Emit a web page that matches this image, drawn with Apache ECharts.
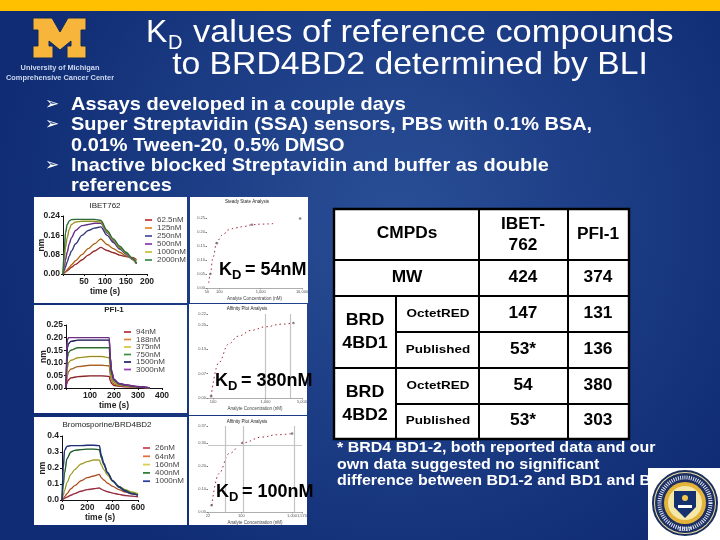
<!DOCTYPE html>
<html>
  <head>
    <meta charset="utf-8" />
    <title>KD values by BLI</title>
    <script src="https://cdn.jsdelivr.net/npm/echarts@6.0.0/dist/echarts.min.js"></script>
  </head>
  <body style="margin: 0; padding: 0; border: 0; background: #16387f">
    <div id="main" style="width: 720px; height: 540px"></div>
    <script type="text/javascript">
      // sensorgrams: IBET762
      var ibetTime = [0, 3, 6, 10, 15, 20, 30, 45, 60, 75, 90, 105, 120, 135, 150, 165, 175];
      var ibetNames = ["62.5nM", "125nM", "250nM", "500nM", "1000nM", "2000nM"];
      var ibet62 = [0, 0.004, 0.008, 0.013, 0.02, 0.028, 0.04, 0.058, 0.078, 0.095, 0.11, 0.097, 0.088, 0.078, 0.072, 0.068, 0.06];
      var ibet125 = [0, 0.005, 0.01, 0.018, 0.028, 0.038, 0.055, 0.08, 0.105, 0.125, 0.145, 0.122, 0.105, 0.09, 0.075, 0.065, 0.055];
      var ibet250 = [0, 0.015, 0.03, 0.05, 0.075, 0.095, 0.125, 0.16, 0.18, 0.19, 0.195, 0.16, 0.13, 0.103, 0.082, 0.06, 0.042];
      var ibet500 = [0, 0.03, 0.06, 0.09, 0.125, 0.15, 0.18, 0.2, 0.205, 0.21, 0.21, 0.17, 0.136, 0.107, 0.085, 0.062, 0.043];
      var ibet1000 = [0, 0.06, 0.11, 0.15, 0.185, 0.205, 0.215, 0.218, 0.218, 0.218, 0.215, 0.175, 0.14, 0.11, 0.087, 0.063, 0.044];
      var ibet2000 = [0, 0.1, 0.17, 0.205, 0.22, 0.225, 0.226, 0.226, 0.226, 0.226, 0.222, 0.18, 0.145, 0.115, 0.09, 0.065, 0.045];

      // sensorgrams: PFI-1
      var pfiTime = [0, 3, 6, 10, 20, 50, 100, 150, 180, 185, 190, 200, 220, 250, 300, 350];
      var pfiNames = ["94nM", "188nM", "375nM", "750nM", "1500nM", "3000nM"];
      var pfi94 = [0, 0.015, 0.025, 0.032, 0.04, 0.045, 0.048, 0.048, 0.046, 0.028, 0.018, 0.01, 0.007, 0.005, 0.003, 0];
      var pfi188 = [0, 0.03, 0.05, 0.065, 0.075, 0.085, 0.09, 0.09, 0.088, 0.05, 0.03, 0.016, 0.01, 0.007, 0.004, 0];
      var pfi375 = [0, 0.05, 0.08, 0.1, 0.11, 0.12, 0.125, 0.125, 0.12, 0.07, 0.04, 0.022, 0.012, 0.009, 0.004, 0];
      var pfi750 = [0, 0.08, 0.12, 0.14, 0.15, 0.16, 0.16, 0.16, 0.16, 0.095, 0.055, 0.03, 0.016, 0.01, 0.005, 0];
      var pfi1500 = [0, 0.11, 0.16, 0.175, 0.185, 0.19, 0.19, 0.19, 0.19, 0.115, 0.065, 0.033, 0.018, 0.012, 0.005, 0];
      var pfi3000 = [0, 0.15, 0.19, 0.2, 0.2, 0.2, 0.2, 0.2, 0.2, 0.12, 0.07, 0.035, 0.018, 0.012, 0.006, 0];

      // sensorgrams: Bromosporine
      var bromoTime = [0, 10, 20, 40, 70, 100, 150, 200, 250, 295, 310, 330, 360, 400, 450, 500, 550, 600];
      var bromoNames = ["26nM", "64nM", "160nM", "400nM", "1000nM "];
      var bromo26 = [0, 0.005, 0.01, 0.018, 0.03, 0.04, 0.055, 0.065, 0.07, 0.075, 0.068, 0.06, 0.052, 0.043, 0.035, 0.028, 0.024, 0.02];
      var bromo64 = [0, 0.01, 0.02, 0.04, 0.07, 0.09, 0.12, 0.14, 0.15, 0.16, 0.14, 0.125, 0.105, 0.085, 0.065, 0.05, 0.04, 0.035];
      var bromo160 = [0, 0.03, 0.06, 0.11, 0.16, 0.19, 0.225, 0.24, 0.25, 0.25, 0.22, 0.19, 0.155, 0.115, 0.085, 0.065, 0.05, 0.04];
      var bromo400 = [0, 0.09, 0.17, 0.26, 0.3, 0.31, 0.315, 0.318, 0.318, 0.315, 0.265, 0.22, 0.17, 0.12, 0.085, 0.06, 0.042, 0.03];
      var bromo1000 = [0, 0.2, 0.31, 0.335, 0.34, 0.34, 0.34, 0.342, 0.342, 0.34, 0.28, 0.23, 0.17, 0.12, 0.08, 0.055, 0.038, 0.03];

      // steady state fits, concentration (nM) vs response
      var ssaConcA = [55, 60, 70, 87, 120, 167, 250, 400, 615, 1000, 2000];
      var ssaRespA = [0.018, 0.05, 0.11, 0.167, 0.19, 0.208, 0.215, 0.22, 0.226, 0.228, 0.23];
      var ssaDotsA = [[60, 0.05], [87, 0.16], [615, 0.226], [9000, 0.248]];
      var ssaConcB = [92, 128, 197, 300, 553, 1000, 2000, 3430];
      var ssaRespB = [0.005, 0.094, 0.1435, 0.165, 0.181, 0.19, 0.197, 0.2];
      var ssaDotsB = [[92, 0.005], [3430, 0.2]];
      var ssaConcC = [26, 36, 57, 107, 257, 500, 1000];
      var ssaRespC = [0.029, 0.166, 0.253, 0.3, 0.325, 0.335, 0.34];
      var ssaDotsC = [[26, 0.029], [107, 0.3], [1000, 0.34]];

      // table
      var tableHead = ["CMPDs", "IBET-\n762", "PFI-1"];
      var rowMw = ["MW", "424", "374"];
      var rowGroups = ["BRD\n4BD1", "BRD\n4BD2"];
      var rowAssays = ["OctetRED", "Published", "OctetRED", "Published"];
      var colIbet = ["147", "53*", "54", "53*"];
      var colPfi = ["131", "136", "380", "303"];

      var bullets = [
        "Assays developed in a couple days",
        "Super Streptavidin (SSA) sensors, PBS with 0.1% BSA,",
        "0.01% Tween-20, 0.5% DMSO",
        "Inactive blocked Streptavidin and buffer as double",
        "references",
      ];
      var footnote = [
        "* BRD4 BD1-2, both reported data and our",
        "own data suggested no significant",
        "difference between BD1-2 and BD1 and BD2",
      ];

      var sans = '"Liberation Sans", Arial, sans-serif';
      var g = [];

      function rect(x, y, w, h, fill, z, stroke, lw) {
        g.push({
          type: "rect", silent: true, z: z,
          shape: { x: x, y: y, width: w, height: h },
          style: { fill: fill, stroke: stroke || null, lineWidth: lw || 0 },
        });
      }
      // scale stretches the text sideways, the slide's type is letter-spaced
      function txt(x, y, s, size, fill, weight, align, z, scale) {
        g.push({
          type: "text", silent: true, z: z || 20, x: x, y: y, scaleX: scale || 1,
          style: {
            x: 0, y: 0, text: s, fill: fill,
            font: (weight || "bold") + " " + size + "px " + sans,
            textAlign: align || "left", textVerticalAlign: "middle", lineHeight: size * 1.35,
          },
        });
      }
      function circle(x, y, r, fill, stroke, lw, dash) {
        g.push({
          type: "circle", silent: true, z: 31,
          shape: { cx: x, cy: y, r: r },
          style: { fill: fill, stroke: stroke || null, lineWidth: lw || 0, lineDash: dash || null },
        });
      }

      // slide background
      g.push({
        type: "rect", silent: true, z: -10,
        shape: { x: 0, y: 0, width: 720, height: 540 },
        style: {
          fill: {
            type: "radial", x: 0.55, y: 0.4, r: 0.75,
            colorStops: [
              { offset: 0, color: "#2a4f96" },
              { offset: 0.6, color: "#1a3a82" },
              { offset: 1, color: "#0f2c74" },
            ],
          },
        },
      });
      rect(0, 0, 720, 11, "#ffc000", -5);

      // block M logo
      g.push({
        type: "polygon", silent: true, z: 5,
        shape: {
          points: [[33, 18], [52, 18], [60, 32], [68, 18], [86, 18], [86, 30], [81, 30], [81, 46], [86, 46], [86, 58],
            [67, 58], [67, 46], [71, 46], [71, 41], [60, 50], [49, 41], [49, 46], [53, 46], [53, 58], [33, 58], [33, 46],
            [38, 46], [38, 30], [33, 30]],
        },
        style: { fill: "#f7b53c", stroke: "#132a5c", lineWidth: 1 },
      });
      txt(60, 68, "University of Michigan", 7.4, "#cdd8ee", "bold", "center");
      txt(60, 77.5, "Comprehensive Cancer Center", 7.4, "#cdd8ee", "bold", "center");

      // title
      txt(146, 33, "K", 32, "#fff", "normal");
      txt(168, 43, "D", 20, "#fff", "normal");
      txt(193, 33, "values of reference compounds", 32, "#fff", "normal", "left", 20, 1.076);
      txt(410, 65, "to BRD4BD2 determined by BLI", 32, "#fff", "normal", "center", 20, 1.053);

      // bullets
      var bulletY = [105, 125, 146, 166, 186];
      bullets.forEach(function (s, i) {
        txt(71, bulletY[i], s, 18.4, "#fff", "bold", "left", 20, 1.085);
      });
      [105, 125, 166].forEach(function (y) {
        g.push({
          type: "text", silent: true, z: 20,
          style: { x: 45, y: y, text: "\u27A2", fill: "#fff", font: '17px "DejaVu Sans"', textVerticalAlign: "middle" },
        });
      });

      // white picture panels
      rect(34, 197, 153, 106, "#fff", 0);
      rect(34, 305, 153, 108, "#fff", 0);
      rect(34, 417, 153, 108, "#fff", 0);
      rect(190, 197, 118, 106, "#fff", 0);
      rect(189, 304, 118, 111, "#fff", 0);
      rect(189, 416, 118, 109, "#fff", 0);

      // KD labels
      function kd(x, y, value) {
        txt(x, y, "K", 18, "#000");
        txt(x + 13, y + 5, "D", 13, "#000");
        txt(x + 26, y, "= " + value, 18, "#000");
      }
      kd(219, 270, "54nM");
      kd(215, 381, "380nM");
      kd(216, 492, "100nM");

      // table
      rect(334, 209, 295, 230, "#fff", 10, "#000", 2.4);
      function hline(x1, x2, y) { rect(x1, y - 1, x2 - x1, 2, "#000", 11); }
      function vline(x, y1, y2) { rect(x - 1, y1, 2, y2 - y1, "#000", 11); }
      hline(334, 629, 260);
      hline(334, 629, 296);
      hline(396, 629, 332);
      hline(334, 629, 368);
      hline(396, 629, 404);
      vline(479, 209, 439);
      vline(568, 209, 439);
      vline(396, 296, 439);
      var cellScale = 1.08;
      txt(407, 234, tableHead[0], 16, "#000", "bold", "center", 20, cellScale);
      txt(523, 235, tableHead[1], 16, "#000", "bold", "center", 20, cellScale);
      txt(598, 235, tableHead[2], 16, "#000", "bold", "center", 20, cellScale);
      txt(407, 278, rowMw[0], 16, "#000", "bold", "center", 20, cellScale);
      txt(523, 278, rowMw[1], 16, "#000", "bold", "center", 20, cellScale);
      txt(598, 278, rowMw[2], 16, "#000", "bold", "center", 20, cellScale);
      txt(365, 332, rowGroups[0], 16.5, "#000", "bold", "center", 20, cellScale);
      txt(365, 404, rowGroups[1], 16.5, "#000", "bold", "center", 20, cellScale);
      var rowY = [314, 350, 386, 421];
      rowAssays.forEach(function (s, i) {
        txt(438, rowY[i], s, 11.5, "#000", "bold", "center", 20, 1.17);
        txt(523, rowY[i], colIbet[i], 16, "#000", "bold", "center", 20, cellScale);
        txt(598, rowY[i], colPfi[i], 16, "#000", "bold", "center", 20, cellScale);
      });

      // footnote
      var footY = [448, 465, 481];
      footnote.forEach(function (s, i) {
        txt(337, footY[i], s, 14.6, "#fff", "bold", "left", 20, 1.097);
      });

      // seal
      rect(648, 468, 72, 72, "#fff", 30);
      circle(685, 503, 32, "#e8dca0", "#1a2f5e", 2);
      circle(685, 503, 30, "#1d2f62");
      circle(685, 503, 25.5, null, "#dfe6f5", 4, [1, 1.2]);
      circle(685, 503, 21, "#e3b33a");
      circle(685, 503, 17, "#f4e7a8");
      g.push({
        type: "polygon", silent: true, z: 32,
        shape: { points: [[674, 491], [696, 491], [696, 507], [685, 518], [674, 507]] },
        style: { fill: "#14306e" },
      });
      rect(678, 505, 14, 3, "#fff", 33);
      g.push({
        type: "circle", silent: true, z: 33,
        shape: { cx: 685, cy: 498, r: 3 },
        style: { fill: "#f2c84b" },
      });
      txt(685, 529, "1817", 6, "#dfe6f5", "bold", "center", 34);

      // sensorgram helpers
      function zip(xs, ys) {
        return xs.map(function (x, i) { return [x, ys[i]]; });
      }
      function sensorSeries(idx, time, names, rows, colors) {
        var out = [];
        rows.forEach(function (row, i) {
          out.push({
            name: names[i], type: "line", xAxisIndex: idx, yAxisIndex: idx,
            data: zip(time, row), showSymbol: false, smooth: 0.3, smoothMonotone: "x",
            lineStyle: { color: colors[i], width: 1.4 }, itemStyle: { color: colors[i] }, animation: false, silent: true,
          });
          out.push({
            type: "line", xAxisIndex: idx, yAxisIndex: idx,
            data: zip(time, row), showSymbol: false, smooth: 0.3, smoothMonotone: "x",
            lineStyle: { color: "#111", width: 0.6, opacity: 0.6 }, animation: false, silent: true,
          });
        });
        return out;
      }
      function ssaSeries(idx, conc, resp, dots, refX, refY) {
        var lines = [];
        (refX || []).forEach(function (v) { lines.push({ xAxis: v, lineStyle: { color: "#c4c4c4", width: 1.2, type: "solid" } }); });
        (refY || []).forEach(function (v) { lines.push({ yAxis: v, lineStyle: { color: "#c4c4c4", width: 1.2, type: "solid" } }); });
        return [
          {
            type: "line", xAxisIndex: idx, yAxisIndex: idx, data: zip(conc, resp), showSymbol: false, smooth: 0.4,
            smoothMonotone: "x", lineStyle: { color: "#a52a3a", width: 1, type: [1.5, 3] }, animation: false, silent: true,
            markLine: lines.length ? {
              silent: true, symbol: "none", label: { show: false }, animation: false, data: lines,
            } : undefined,
          },
          {
            type: "scatter", xAxisIndex: idx, yAxisIndex: idx, data: dots, symbolSize: 2.6,
            itemStyle: { color: "#5f6f7d" }, animation: false, silent: true,
          },
        ];
      }

      var axisLine = { lineStyle: { color: "#111", width: 1 } };
      function sensorAxisX(idx, max, interval, hideZero, nameGap) {
        return {
          type: "value", gridIndex: idx, min: 0, max: max, interval: interval,
          name: "time (s)", nameLocation: "middle", nameGap: nameGap,
          nameTextStyle: { fontFamily: sans, fontSize: 8.5, fontWeight: "bold", color: "#222" },
          splitLine: { show: false }, axisLine: axisLine, axisTick: { length: 2, lineStyle: { color: "#111" } },
          axisLabel: {
            fontFamily: sans, fontSize: 8.5, fontWeight: "bold", color: "#222", margin: 3,
            formatter: function (v) { return hideZero && v === 0 ? "" : v; },
          },
        };
      }
      function sensorAxisY(idx, max, interval, digits, nameGap) {
        return {
          type: "value", gridIndex: idx, min: 0, max: max, interval: interval,
          name: "nm", nameLocation: "middle", nameGap: nameGap, nameMoveOverlap: false,
          nameTextStyle: { fontFamily: sans, fontSize: 8.5, fontWeight: "bold", color: "#222" },
          splitLine: { show: false }, axisLine: axisLine, axisTick: { length: 2, lineStyle: { color: "#111" } },
          axisLabel: {
            fontFamily: sans, fontSize: 8.5, fontWeight: "bold", color: "#222", margin: 3,
            formatter: function (v) { return v.toFixed(digits); },
          },
        };
      }
      function ssaAxisX(idx, min, max) {
        return {
          type: "log", gridIndex: idx, min: min, max: max, logBase: 10,
          name: "Analyte Concentration (nM)", nameLocation: "middle", nameGap: 8,
          nameTextStyle: { fontFamily: sans, fontSize: 4.5, color: "#444" },
          splitLine: { show: false }, axisLine: { lineStyle: { color: "#999", width: 0.8 } },
          axisTick: { length: 1.5, lineStyle: { color: "#999" } },
          axisLabel: { fontSize: 4, color: "#555", margin: 2 },
        };
      }
      function ssaAxisY(idx, max, interval) {
        return {
          type: "value", gridIndex: idx, min: 0, max: max, interval: interval,
          splitLine: { show: false }, axisLine: { show: false },
          axisTick: { show: true, length: 1.5, lineStyle: { color: "#777" } },
          axisLabel: { fontSize: 4, color: "#555", margin: 2, formatter: function (v) { return v.toFixed(2); } },
        };
      }
      function legendAt(left, top, names, gap, colors) {
        return {
          orient: "vertical", left: left, top: top, padding: 0, itemWidth: 7, itemHeight: 6, itemGap: gap, selectedMode: false,
          icon: "path://M0 0H8V2H0Z",
          textStyle: { fontFamily: sans, fontSize: 8, color: "#444" },
          data: names.map(function (n, i) { return { name: n, itemStyle: { color: colors[i] } }; }),
        };
      }
      function plotTitle(text, x, y, weight, size) {
        return {
          text: text, left: x, top: y, textAlign: "center", padding: 0,
          textStyle: { fontFamily: sans, fontSize: size, fontWeight: weight, color: "#222" },
        };
      }

      var ibetColors = ["#c43a3a", "#e08a2e", "#4a4fa0", "#8a3fb0", "#c9c23a", "#3f8f4a"];
      var pfiColors = ["#b5343a", "#e0883a", "#d8c83e", "#3f8f3f", "#20256e", "#9a3fb5"];
      var bromoColors = ["#c8405a", "#e0703a", "#d8d04a", "#2f7f3a", "#2a3f9f"];

      var series = []
        .concat(sensorSeries(0, ibetTime, ibetNames, [ibet62, ibet125, ibet250, ibet500, ibet1000, ibet2000], ibetColors))
        .concat(sensorSeries(1, pfiTime, pfiNames, [pfi94, pfi188, pfi375, pfi750, pfi1500, pfi3000], pfiColors))
        .concat(sensorSeries(2, bromoTime, bromoNames, [bromo26, bromo64, bromo160, bromo400, bromo1000], bromoColors))
        .concat(ssaSeries(3, ssaConcA, ssaRespA, ssaDotsA))
        .concat(ssaSeries(4, ssaConcB, ssaRespB, ssaDotsB, [1000, 3000], []))
        .concat(ssaSeries(5, ssaConcC, ssaRespC, ssaDotsC, [49, 107, 1080], [0.289]));

      var myChart = echarts.init(document.getElementById("main"), null, { renderer: "canvas" });
      myChart.setOption({
        animation: false,
        graphic: { elements: g },
        title: [
          plotTitle("IBET762", 105, 202, "normal", 8),
          plotTitle("PFI-1", 114, 306, "bold", 8),
          plotTitle("Bromosporine/BRD4BD2", 107, 421, "normal", 8),
          plotTitle("Steady State Analysis", 247, 199, "normal", 4.5),
          plotTitle("Affinity Plot Analysis", 247, 306, "normal", 4.5),
          plotTitle("Affinity Plot Analysis", 247, 419, "normal", 4.5),
        ],
        legend: [
          legendAt(145, 216, ibetNames, 0, ibetColors),
          legendAt(124, 328, pfiNames, -0.5, pfiColors),
          legendAt(143, 444, bromoNames, 0.3, bromoColors),
        ],
        grid: [
          { left: 63, top: 216, width: 84, height: 58 },
          { left: 66, top: 325, width: 96, height: 63 },
          { left: 62, top: 436, width: 76, height: 64 },
          { left: 207, top: 218, width: 95, height: 70 },
          { left: 208, top: 314, width: 94, height: 84, show: true, borderColor: "#aaa", borderWidth: 1 },
          { left: 208, top: 426, width: 94, height: 86, show: true, borderColor: "#aaa", borderWidth: 1 },
        ],
        xAxis: [
          sensorAxisX(0, 200, 50, true, 13),
          sensorAxisX(1, 400, 100, true, 11),
          sensorAxisX(2, 600, 200, false, 13),
          ssaAxisX(3, 50, 10000),
          ssaAxisX(4, 80, 5000),
          ssaAxisX(5, 22, 1570),
        ],
        yAxis: [
          sensorAxisY(0, 0.24, 0.08, 2, 17),
          sensorAxisY(1, 0.25, 0.05, 2, 18),
          sensorAxisY(2, 0.4, 0.1, 1, 15),
          ssaAxisY(3, 0.25, 0.05),
          ssaAxisY(4, 0.2242, 0.065),
          ssaAxisY(5, 0.373, 0.1),
        ],
        series: series,
      });
    </script>
  </body>
</html>
